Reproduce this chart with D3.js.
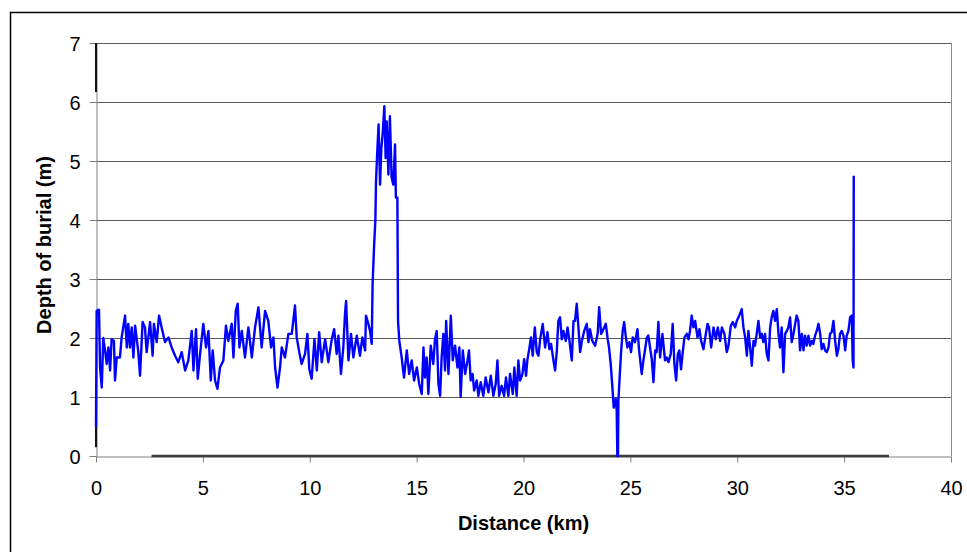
<!DOCTYPE html>
<html>
<head>
<meta charset="utf-8">
<script src="https://cdn.jsdelivr.net/npm/d3@7"></script>
<style>
  body { margin: 0; background: #fff; }
  text { font-family: "Liberation Sans", Arial, sans-serif; }
</style>
</head>
<body>
<svg width="967" height="552"></svg>
<script>
// tick values
var xTicks = [0, 5, 10, 15, 20, 25, 30, 35, 40];
var yTicks = [0, 1, 2, 3, 4, 5, 6, 7];

// burial depth profile, [distance km, depth m]
var westSection = [
  [0.00,0.49],[0.03,2.46],[0.14,2.48],[0.19,1.50],[0.27,1.16],[0.34,2.00],[0.42,1.80],[0.50,1.56],[0.58,1.84],[0.66,1.45],
  [0.73,1.98],[0.84,1.95],[0.89,1.28],[0.97,1.67],[1.12,1.67],[1.20,2.01],[1.36,2.38],[1.44,1.84],[1.51,2.24],[1.59,1.84],
  [1.67,2.18],[1.75,1.67],[1.83,2.21],[1.98,1.76],[2.06,1.36],[2.18,2.27],[2.29,2.18],[2.37,1.76],[2.53,2.27],[2.65,1.70],
  [2.71,2.24],[2.84,1.93],[2.95,2.38],[3.07,2.18],[3.23,1.93],[3.39,2.01],[3.54,1.84],[3.70,1.70],[3.85,1.59],[4.01,1.76],
  [4.17,1.45],[4.32,1.62],[4.48,2.12],[4.56,1.45],[4.68,2.15],[4.76,1.31],[4.87,1.73],[5.02,2.24],[5.15,1.84],[5.26,2.12],
  [5.37,1.28],[5.46,1.79],[5.57,1.28],[5.68,1.14],[5.80,1.50],[5.96,1.62],[6.08,2.21],[6.19,1.95],[6.35,2.24],[6.43,1.67],
  [6.54,2.46],[6.63,2.58],[6.71,1.84],[6.82,2.12],[6.97,1.67],[7.13,2.18],[7.29,1.67],[7.44,2.18],[7.60,2.52],
  [7.75,1.84],[7.91,2.46],[8.06,2.29],[8.19,1.84],[8.30,2.01],[8.38,1.50],[8.49,1.16],[8.61,1.50],[8.69,1.84],[8.84,1.67],
  [9.00,2.07],[9.16,2.07],[9.31,2.55],[9.39,2.01],[9.51,1.76],[9.62,1.56],[9.78,1.73],[9.89,2.07],[9.98,1.47],[10.09,1.31],
  [10.22,1.98],[10.33,1.45],[10.44,2.10],[10.56,1.59],[10.72,1.98],[10.87,1.59],[11.03,1.98],[11.14,2.15],[11.26,1.73],[11.34,2.04],
  [11.46,1.39],[11.57,1.84],[11.65,2.41],[11.70,2.63],[11.81,1.62],[11.93,2.07],[12.04,1.67],[12.20,2.04],[12.35,1.70],[12.46,2.01],
  [12.59,1.79],[12.63,2.38],[12.74,2.24],[12.82,2.12],[12.90,1.90]
];

var moundSection = [
  [12.94,2.91],[13.01,3.56],[13.07,4.00],[13.10,4.66],[13.16,5.17],[13.22,5.62],[13.29,4.60],[13.35,5.22],[13.41,5.45],[13.49,5.93],
  [13.55,5.05],[13.60,5.67],[13.68,4.77],[13.75,5.76],[13.83,4.72],[13.91,4.60],[13.99,5.28],[14.03,4.38],[14.10,4.38],[14.13,2.29],
  [14.19,1.95]
];

var shallowSection = [
  [14.30,1.67],[14.41,1.33],[14.54,1.79],[14.65,1.39],[14.77,1.62],[14.88,1.28],[15.01,1.50],[15.12,1.22],[15.24,1.05],[15.32,1.84],
  [15.39,1.33],[15.47,1.67],[15.55,1.05],[15.66,1.87],[15.78,1.56],[15.86,1.98],[15.94,2.12],[16.02,1.22],[16.10,1.02],[16.17,1.67],
  [16.25,2.07],[16.33,1.45],[16.38,2.29],[16.49,1.39],[16.60,2.38],[16.69,1.62],[16.80,1.87],[16.91,1.50],[17.00,1.84],[17.06,1.00],
  [17.16,1.79],[17.27,1.39],[17.38,1.62],[17.45,1.79],[17.53,1.28],[17.62,1.39],[17.69,1.11],[17.81,1.28],[17.89,1.02],[18.00,1.25],
  [18.12,1.02],[18.23,1.33],[18.36,1.08],[18.47,1.36],[18.59,1.02],[18.70,1.22],[18.78,1.62],[18.86,1.02],[18.98,1.19],[19.09,1.02],
  [19.18,1.33],[19.29,1.02],[19.37,1.39],[19.50,1.05],[19.57,1.50],[19.68,1.02],[19.76,1.62],[19.84,1.28],[19.95,1.39],[20.03,1.64],
  [20.12,1.36],[20.18,1.62],[20.28,1.84],[20.35,2.01],[20.43,1.70],[20.53,2.18],[20.62,1.76],[20.70,1.70],[20.78,1.98],[20.90,2.24],
  [21.01,1.84],[21.12,2.10],[21.21,1.81],[21.29,1.90],[21.40,1.62],[21.48,1.45],[21.56,1.79],[21.63,2.29],[21.71,2.35],[21.79,1.98],
  [21.87,2.12],[21.98,1.95],[22.06,2.18],[22.15,1.95],[22.26,1.62],[22.34,2.29],[22.41,2.29],[22.49,2.58],[22.57,2.18],[22.65,1.76],
  [22.73,1.95],[22.84,2.12],[22.96,2.24]
];

var eastSection = [
  [23.04,1.93],[23.11,2.15],[23.22,1.95],[23.35,1.87],[23.47,2.07],[23.54,2.52],[23.63,2.07],[23.74,2.15],[23.85,2.24],[23.94,1.98],
  [24.00,1.84],[24.08,1.56],[24.16,1.16],[24.22,0.82],[24.32,0.97],[24.36,0.77],[24.39,0.00],[24.42,0.00],[24.44,0.94],[24.49,1.28],
  [24.56,1.73],[24.64,2.12],[24.71,2.27],[24.78,2.04],[24.86,1.84],[24.95,1.93],[25.03,1.76],[25.11,2.01],[25.22,1.93],[25.33,2.15],
  [25.41,1.79],[25.53,1.39],[25.61,1.62],[25.69,1.81],[25.77,2.01],[25.84,2.04],[25.92,1.84],[26.00,1.64],[26.08,1.25],[26.16,1.79],
  [26.23,1.76],[26.31,2.27],[26.39,1.67],[26.50,2.07],[26.62,1.62],[26.70,1.67],[26.78,1.59],[26.89,1.73],[26.98,2.24],[27.06,1.56],
  [27.14,1.28],[27.22,1.73],[27.29,1.79],[27.37,1.47],[27.45,1.76],[27.53,2.01],[27.64,2.07],[27.72,1.98],[27.79,2.12],[27.87,2.38],
  [27.95,2.18],[28.03,2.29],[28.14,2.01],[28.23,2.15],[28.31,1.95],[28.42,1.81],[28.53,2.07],[28.61,2.24],[28.68,2.18],[28.78,1.84],
  [28.89,2.18],[29.00,1.98],[29.09,2.18],[29.20,1.95],[29.28,2.18],[29.40,2.07],[29.51,1.76],[29.59,1.87],[29.70,2.21],[29.79,2.27],
  [29.90,2.18],[29.98,2.29],[30.06,2.35],[30.13,2.41],[30.21,2.49],[30.29,2.18],[30.37,2.01],[30.45,1.70],[30.52,2.12],[30.60,1.84],
  [30.68,1.53],[30.76,1.95],[30.83,1.87],[30.91,2.07],[30.99,2.29],[31.07,2.01],[31.15,2.07],[31.22,1.93],[31.30,2.07],[31.38,1.73],
  [31.46,1.62],[31.54,2.18],[31.61,2.35],[31.69,2.46],[31.77,2.29],[31.85,2.49],[31.93,2.07],[32.00,1.84],[32.08,2.18],[32.16,1.42],
  [32.24,2.07],[32.32,2.12],[32.39,2.18],[32.47,2.35],[32.55,1.93],[32.63,2.07],[32.71,2.24],[32.78,2.38],[32.86,2.29],[32.94,1.79],
  [33.02,2.07],[33.10,1.79],[33.17,2.04],[33.25,1.87],[33.33,2.04],[33.41,1.87],[33.49,1.95],[33.56,1.90],[33.64,2.04],[33.72,2.12],
  [33.80,2.24],[33.88,2.07],[33.95,1.81],[34.03,1.90],[34.11,1.79],[34.19,1.76],[34.27,1.84],[34.34,2.07],[34.42,2.10],[34.50,2.29],
  [34.58,1.95],[34.66,1.70],[34.73,1.81],[34.81,2.07],[34.89,2.12],[34.97,2.04],[35.05,1.79],[35.12,2.04],[35.20,2.12],[35.28,2.35],
  [35.36,2.38],[35.40,1.62],[35.44,1.50],[35.45,4.75]
];

// black reference marks of the second series
var startMark = [[0, 0.15], [0, 0.49]];
var topMark = [[0, 6.17], [0, 7]];
var seabedBar = [[2.6, 0], [37.1, 0]];

var profile = westSection.concat(moundSection, shallowSection, eastSection);

var svg = d3.select("svg"),
    plotLeft = 96, plotRight = 951, plotTop = 43, plotBottom = 456;

var x = d3.scaleLinear().domain([0, 40]).range([plotLeft, plotRight]);
var y = d3.scaleLinear().domain([0, 7]).range([plotBottom, plotTop]);

// outer frame
svg.append("rect")
    .attr("x", 10.5).attr("y", 12.5)
    .attr("width", 1000).attr("height", 600)
    .attr("fill", "none").attr("stroke", "#000").attr("stroke-width", 1.5);

// gridlines
svg.append("g").selectAll("line")
  .data(yTicks.filter(function(d) { return d > 0; }))
  .enter().append("line")
    .attr("x1", plotLeft).attr("x2", plotRight)
    .attr("y1", function(d) { return Math.round(y(d)) + 0.5; })
    .attr("y2", function(d) { return Math.round(y(d)) + 0.5; })
    .attr("stroke", "#5a5a5a").attr("stroke-width", 1);

// right edge of plot area
svg.append("line")
    .attr("x1", plotRight + 0.5).attr("x2", plotRight + 0.5)
    .attr("y1", plotTop).attr("y2", plotBottom)
    .attr("stroke", "#8c8c8c");

var xAxis = svg.append("g")
    .attr("transform", "translate(0," + (plotBottom + 0.5) + ")")
    .call(d3.axisBottom(x).tickValues(xTicks).tickFormat(d3.format("d"))
      .tickSize(6).tickPadding(18).tickSizeOuter(0));

var yAxis = svg.append("g")
    .attr("transform", "translate(" + (plotLeft + 0.5) + ",0)")
    .call(d3.axisLeft(y).tickValues(yTicks).tickFormat(d3.format("d"))
      .tickSize(7).tickPadding(9).tickSizeOuter(0));

svg.selectAll(".domain, .tick line").attr("stroke", "#808080");
svg.selectAll(".tick text")
    .attr("fill", "#000")
    .style("font-size", "20px")
    .style("font-family", "'Liberation Sans', Arial, sans-serif");
yAxis.selectAll(".tick text").attr("dy", "0.36em");

var line = d3.line()
    .x(function(d) { return x(d[0]); })
    .y(function(d) { return y(d[1]); });

// black second-series marks
[startMark, topMark].forEach(function(m) {
  svg.append("path").datum(m)
      .attr("d", line)
      .attr("fill", "none").attr("stroke", "#111").attr("stroke-width", 2);
});
svg.append("path").datum(seabedBar)
    .attr("d", line)
    .attr("fill", "none").attr("stroke", "#3c3c3c").attr("stroke-width", 2.5);

// burial depth trace
svg.append("path").datum(profile)
    .attr("d", line)
    .attr("fill", "none")
    .attr("stroke", "#0000ff")
    .attr("stroke-width", 2.4)
    .attr("stroke-linejoin", "round");

// axis titles
svg.append("text")
    .attr("x", (plotLeft + plotRight) / 2).attr("y", 530)
    .attr("text-anchor", "middle")
    .style("font-size", "20px").style("font-weight", "bold")
    .text("Distance (km)");

svg.append("text")
    .attr("transform", "translate(51," + 245 + ") rotate(-90)")
    .attr("text-anchor", "middle")
    .style("font-size", "20px").style("font-weight", "bold")
    .text("Depth of burial (m)");
</script>
</body>
</html>
